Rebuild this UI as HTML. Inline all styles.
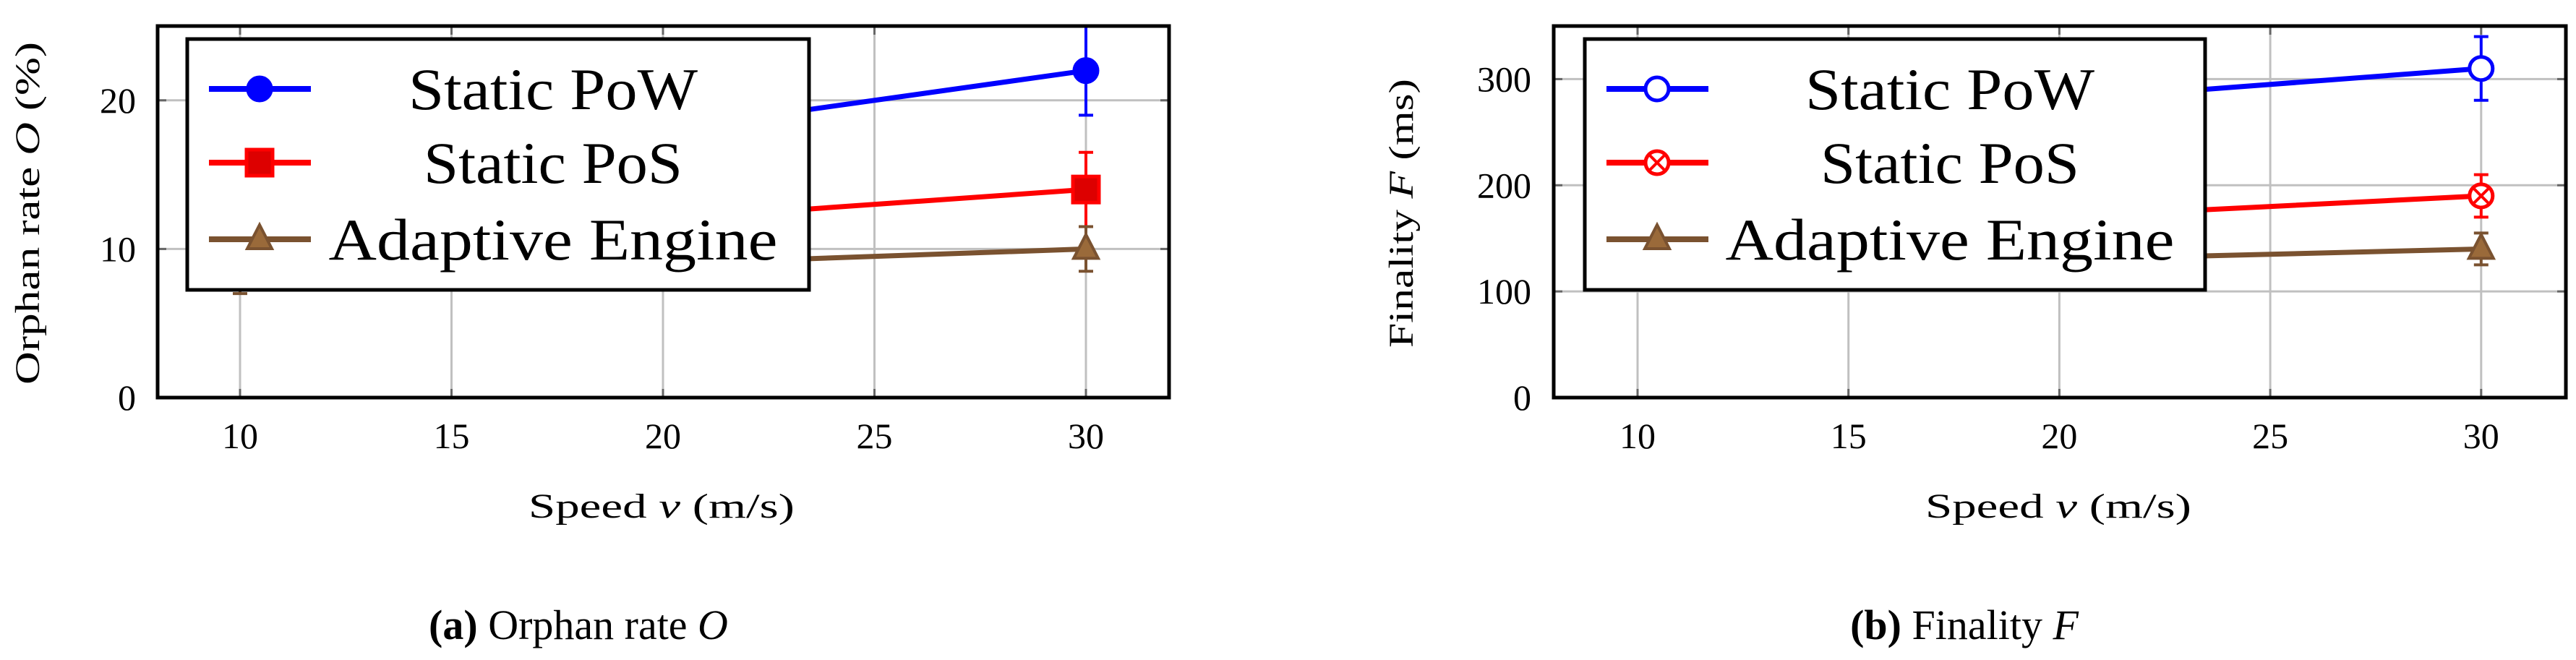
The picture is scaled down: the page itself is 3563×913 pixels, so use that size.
<!DOCTYPE html>
<html><head><meta charset="utf-8"><style>
html,body{margin:0;padding:0;background:#fff;}
svg{display:block;font-family:"Liberation Serif",serif;}
</style></head><body>
<svg id="fig" width="3563" height="913" viewBox="0 0 3563 913" xmlns="http://www.w3.org/2000/svg"></svg>
<script>
const speeds = [10, 20, 30];
const xTicks = [10, 15, 20, 25, 30];
const orphanPoW = [14, 18, 22];
const orphanPoWErr = [2, 2.5, 3];
const orphanPoS = [10, 12, 14];
const orphanPoSErr = [1.5, 2, 2.5];
const orphanAdaptive = [8, 9, 10];
const orphanAdaptiveErr = [1, 1.2, 1.5];
const orphanYTicks = [0, 10, 20];
const finalPoW = [250, 280, 310];
const finalPoWErr = [20, 25, 30];
const finalPoS = [150, 170, 190];
const finalPoSErr = [12, 15, 20];
const finalAdaptive = [120, 130, 140];
const finalAdaptiveErr = [10, 12, 15];
const finalYTicks = [0, 100, 200, 300];
const seriesNames = ["Static PoW", "Static PoS", "Adaptive Engine"];
const legendWidths = [400, 358, 621];

const NS = "http://www.w3.org/2000/svg";
const svg = document.getElementById('fig');
function mk(tag, attrs, parent, text) {
  const e = document.createElementNS(NS, tag);
  for (const k in attrs) e.setAttribute(k, attrs[k]);
  if (text !== undefined) e.textContent = text;
  (parent || svg).appendChild(e);
  return e;
}

function drawPanel(cfg) {
  const g = mk('g', {});
  
  
  const L = cfg.L, R = cfg.R, T = 36, B = 550;
  const xs = v => cfg.x10 + (v - 10) * cfg.px5 / 5;
  const ys = v => B - v * (B - T) / cfg.ymax;
  const clipId = cfg.name + '-clip';
  const defs = mk('defs', {}, g);
  const cp = mk('clipPath', {id: clipId}, defs);
  mk('rect', {x: L, y: T, width: R - L, height: B - T}, cp);
  xTicks.forEach(t => {
    const l = mk('line', {x1: xs(t), x2: xs(t), y1: T, y2: B, stroke: '#c0c0c0', 'stroke-width': 3}, g);
    
    
    mk('line', {x1: xs(t), x2: xs(t), y1: B, y2: B - 12, stroke: '#666', 'stroke-width': 3}, g);
    mk('line', {x1: xs(t), x2: xs(t), y1: T, y2: T + 12, stroke: '#666', 'stroke-width': 3}, g);
    const tl = mk('text', {x: xs(t), y: 620, 'font-size': 50, 'text-anchor': 'middle'}, g, String(t));
    
    
  });
  cfg.yTicks.forEach(t => {
    const l = mk('line', {x1: L, x2: R, y1: ys(t), y2: ys(t), stroke: '#c0c0c0', 'stroke-width': 3}, g);
    
    
    mk('line', {x1: L, x2: L + 12, y1: ys(t), y2: ys(t), stroke: '#666', 'stroke-width': 3}, g);
    mk('line', {x1: R, x2: R - 12, y1: ys(t), y2: ys(t), stroke: '#666', 'stroke-width': 3}, g);
    const tl = mk('text', {x: cfg.yLabX, y: ys(t) + 17, 'font-size': 50, 'text-anchor': 'end'}, g, String(t));
    
    
  });
  const dg = mk('g', {'clip-path': 'url(#' + clipId + ')'}, g);
  cfg.series.forEach((s, si) => {
    const sg = mk('g', {}, dg);
    
    
    const pts = speeds.map((v, i) => xs(v) + ',' + ys(s.vals[i])).join(' ');
    mk('polyline', {points: pts, fill: 'none', stroke: s.color, 'stroke-width': 7}, sg);
    speeds.forEach((v, i) => {
      const x = xs(v), y1 = ys(s.vals[i] - s.err[i]), y2 = ys(s.vals[i] + s.err[i]);
      const eb = mk('g', {stroke: s.color, 'stroke-width': 4}, sg);
      
      
      mk('line', {x1: x, x2: x, y1: y1, y2: y2}, eb);
      mk('line', {x1: x - 10, x2: x + 10, y1: y1, y2: y1}, eb);
      mk('line', {x1: x - 10, x2: x + 10, y1: y2, y2: y2}, eb);
      const m = marker(s.marker, s.color, x, ys(s.vals[i]), sg);
      
      
    });
  });
  const box = mk('rect', {x: L, y: T, width: R - L, height: B - T, fill: 'none', stroke: '#000', 'stroke-width': 5}, g);
  
  
  const lg = mk('g', {}, g);
  
  
  mk('rect', {x: cfg.legL, y: 54, width: cfg.legR - cfg.legL, height: 347, fill: '#fff', stroke: '#000', 'stroke-width': 5}, lg);
  const rows = [123, 225, 331];
  cfg.series.forEach((s, si) => {
    const e = mk('g', {}, lg);
    
    
    mk('line', {x1: cfg.legL + 30, x2: cfg.legL + 171, y1: rows[si], y2: rows[si], stroke: s.color, 'stroke-width': 8}, e);
    marker(s.marker, s.color, cfg.legL + 100, rows[si], e);
    mk('text', {x: cfg.legTextX, y: rows[si] + 28, 'font-size': 82, 'text-anchor': 'middle', textLength: legendWidths[si], lengthAdjust: 'spacingAndGlyphs'}, e, seriesNames[si]);
  });
  const xt = mk('text', {x: cfg.xTitleX, y: 716, 'font-size': 48, 'text-anchor': 'middle', textLength: 368, lengthAdjust: 'spacingAndGlyphs'}, g);
  
  
  mk('tspan', {}, xt, 'Speed ');
  mk('tspan', {'font-style': 'italic'}, xt, 'v');
  mk('tspan', {}, xt, ' (m/s)');
  const yt = mk('text', {transform: 'translate(' + cfg.yTitleX + ',295) rotate(-90)', 'font-size': 48, 'text-anchor': 'middle', textLength: cfg.yTitleLen, lengthAdjust: 'spacingAndGlyphs'}, g);
  
  
  mk('tspan', {}, yt, cfg.yTitle[0]);
  mk('tspan', {'font-style': 'italic'}, yt, cfg.yTitle[1]);
  mk('tspan', {}, yt, cfg.yTitle[2]);
  const cap = mk('text', {x: cfg.capX, y: 884, 'font-size': 58, 'text-anchor': 'middle'}, g);
  
  
  mk('tspan', {'font-weight': 'bold'}, cap, cfg.cap[0]);
  mk('tspan', {}, cap, cfg.cap[1]);
  mk('tspan', {'font-style': 'italic'}, cap, cfg.cap[2]);
}

function marker(type, color, x, y, parent) {
  if (type === 'circle') return mk('circle', {cx: x, cy: y, r: 17, fill: color, stroke: color, 'stroke-width': 3}, parent);
  if (type === 'square') return mk('rect', {x: x - 18, y: y - 18, width: 36, height: 36, fill: '#d00', stroke: color, 'stroke-width': 5}, parent);
  if (type === 'tri') return mk('polygon', {points: (x) + ',' + (y - 20) + ' ' + (x - 17) + ',' + (y + 13) + ' ' + (x + 17) + ',' + (y + 13), fill: '#9a6a3a', stroke: color, 'stroke-width': 4}, parent);
  if (type === 'ocircle') return mk('circle', {cx: x, cy: y, r: 16, fill: '#fff', stroke: color, 'stroke-width': 5}, parent);
  if (type === 'xcircle') {
    const g = mk('g', {}, parent);
    mk('circle', {cx: x, cy: y, r: 16, fill: '#fff', stroke: color, 'stroke-width': 5}, g);
    mk('path', {d: 'M' + (x - 10) + ' ' + (y - 10) + 'L' + (x + 10) + ' ' + (y + 10) + 'M' + (x + 10) + ' ' + (y - 10) + 'L' + (x - 10) + ' ' + (y + 10), stroke: color, 'stroke-width': 4}, g);
    return g;
  }
}

const BROWN = '#7a5230';
drawPanel({
  name: 'orphan-rate-chart', L: 218, R: 1617, x10: 332, px5: 292.5, ymax: 25,
  yTicks: orphanYTicks, yLabX: 188, legL: 259, legR: 1119, legTextX: 765,
  xTitleX: 915, yTitleX: 54, yTitleLen: 474, yTitle: ['Orphan rate ', 'O', ' (%)'],
  capX: 800, cap: ['(a)', ' Orphan rate ', 'O'],
  series: [
    {vals: orphanPoW, err: orphanPoWErr, color: '#0000ff', marker: 'circle'},
    {vals: orphanPoS, err: orphanPoSErr, color: '#ff0000', marker: 'square'},
    {vals: orphanAdaptive, err: orphanAdaptiveErr, color: BROWN, marker: 'tri'}
  ]
});
drawPanel({
  name: 'finality-chart', L: 2149, R: 3549, x10: 2265, px5: 291.7, ymax: 350,
  yTicks: finalYTicks, yLabX: 2118, legL: 2192, legR: 3050, legTextX: 2697,
  xTitleX: 2847, yTitleX: 1954, yTitleLen: 372, yTitle: ['Finality ', 'F', ' (ms)'],
  capX: 2717, cap: ['(b)', ' Finality ', 'F'],
  series: [
    {vals: finalPoW, err: finalPoWErr, color: '#0000ff', marker: 'ocircle'},
    {vals: finalPoS, err: finalPoSErr, color: '#ff0000', marker: 'xcircle'},
    {vals: finalAdaptive, err: finalAdaptiveErr, color: BROWN, marker: 'tri'}
  ]
});
</script>
</body></html>
